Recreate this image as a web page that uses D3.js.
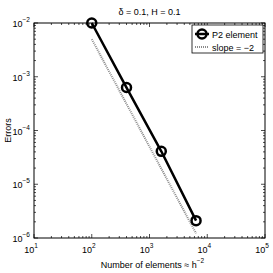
<!DOCTYPE html>
<html>
<head>
<meta charset="utf-8">
<script src="https://cdn.jsdelivr.net/npm/d3@7"></script>
<style>
  body { margin: 0; background: #fff; }
  svg text { font-family: "Liberation Sans", Arial, sans-serif; fill: #000; }
</style>
</head>
<body>
<div id="result"></div>
<script>
// data
const elements = [100, 400, 1600, 6400];
const errors = [1.0e-2, 6.3e-4, 4.1e-5, 2.1e-6];
const slopeX = [100, 6400];
const slopeY = [5.0e-3, 1.22e-6];
const xTickExps = [1, 2, 3, 4, 5];
const yTickExps = [-6, -5, -4, -3, -2];
const legendLabels = ['P2 element', 'slope = \u22122'];

const width = 273, height = 273;
const margin = { top: 23, right: 8, bottom: 35, left: 34 };
const FS = 9, SUP = 6.5;

const svg = d3.select('#result').append('svg')
  .attr('width', width)
  .attr('height', height);

const x = d3.scaleLog().domain([1e1, 1e5]).range([margin.left, width - margin.right]);
const y = d3.scaleLog().domain([1e-6, 1e-2]).range([height - margin.bottom, margin.top]);

const x0 = x.range()[0], x1 = x.range()[1];
const y0 = y.range()[0], y1 = y.range()[1];

// box
svg.append('rect')
  .attr('x', x0).attr('y', y1)
  .attr('width', x1 - x0).attr('height', y0 - y1)
  .attr('fill', 'none').attr('stroke', '#000').attr('stroke-width', 1);

// ticks, inside, on all four sides
const ticks = svg.append('g').attr('stroke', '#000').attr('stroke-width', 0.7);
function minorList(scale) {
  var out = [];
  var d = scale.domain();
  for (var e = Math.log10(d[0]); e < Math.log10(d[1]); e++) {
    for (var m = 1; m < 10; m++) out.push({ v: m * Math.pow(10, e), major: m == 1 });
  }
  out.push({ v: d[1], major: true });
  return out;
}
minorList(x).forEach(function(t) {
  var len = t.major ? 4 : 2;
  var px = x(t.v);
  ticks.append('line').attr('x1', px).attr('x2', px).attr('y1', y0).attr('y2', y0 - len);
  ticks.append('line').attr('x1', px).attr('x2', px).attr('y1', y1).attr('y2', y1 + len);
});
minorList(y).forEach(function(t) {
  var len = t.major ? 4 : 2;
  var py = y(t.v);
  ticks.append('line').attr('x1', x0).attr('x2', x0 + len).attr('y1', py).attr('y2', py);
  ticks.append('line').attr('x1', x1).attr('x2', x1 - len).attr('y1', py).attr('y2', py);
});

// tick labels with superscript exponent
function powLabel(g, e) {
  g.append('tspan').text('10');
  g.append('tspan').attr('dy', -5).attr('font-size', SUP).text(e < 0 ? '\u2212' + (-e) : e);
}
xTickExps.forEach(function(e) {
  var t = svg.append('text')
    .attr('x', x(Math.pow(10, e)) - 3).attr('y', y0 + 15)
    .attr('font-size', FS).attr('text-anchor', 'middle');
  powLabel(t, e);
});
yTickExps.forEach(function(e) {
  var t = svg.append('text')
    .attr('x', x0 - 4).attr('y', y(Math.pow(10, e)) + 4)
    .attr('font-size', FS).attr('text-anchor', 'end');
  powLabel(t, e);
});

// slope reference line
const line = d3.line().x(function(d) { return x(d[0]); }).y(function(d) { return y(d[1]); });
svg.append('path')
  .datum(d3.zip(slopeX, slopeY))
  .attr('d', line)
  .attr('fill', 'none')
  .attr('stroke', '#8a8a8a')
  .attr('stroke-width', 2)
  .attr('stroke-dasharray', '1,1');

// error line with markers
const data = d3.zip(elements, errors);
svg.append('path')
  .datum(data)
  .attr('d', line)
  .attr('fill', 'none')
  .attr('stroke', '#000')
  .attr('stroke-width', 2.5);
svg.selectAll('circle.pt')
  .data(data)
  .enter().append('circle')
  .attr('class', 'pt')
  .attr('cx', function(d) { return x(d[0]); })
  .attr('cy', function(d) { return y(d[1]); })
  .attr('r', 4.5)
  .attr('fill', 'none')
  .attr('stroke', '#000')
  .attr('stroke-width', 2.5);

// title and axis labels
svg.append('text')
  .attr('x', (x0 + x1) / 2).attr('y', 15)
  .attr('font-size', FS).attr('text-anchor', 'middle')
  .text('\u03b4 = 0.1, H = 0.1');

const xl = svg.append('text')
  .attr('x', (x0 + x1) / 2 + 3).attr('y', 268)
  .attr('font-size', FS).attr('text-anchor', 'middle');
xl.append('tspan').text('Number of elements \u2248 h');
xl.append('tspan').attr('dy', -5).attr('font-size', SUP).text('\u22122');

svg.append('text')
  .attr('font-size', FS).attr('text-anchor', 'middle')
  .attr('transform', 'translate(11,' + ((y0 + y1) / 2) + ')rotate(-90)')
  .text('Errors');

// legend
const lg = svg.append('g').attr('transform', 'translate(192,25)');
lg.append('rect')
  .attr('width', 71).attr('height', 28)
  .attr('fill', '#fff').attr('stroke', '#000').attr('stroke-width', 0.8);
lg.append('line')
  .attr('x1', 3).attr('x2', 17).attr('y1', 9).attr('y2', 9)
  .attr('stroke', '#000').attr('stroke-width', 2.5);
lg.append('circle')
  .attr('cx', 10).attr('cy', 9).attr('r', 4.5)
  .attr('fill', 'none').attr('stroke', '#000').attr('stroke-width', 2.5);
lg.append('line')
  .attr('x1', 3).attr('x2', 17).attr('y1', 22).attr('y2', 22)
  .attr('stroke', '#8a8a8a').attr('stroke-width', 2).attr('stroke-dasharray', '1,1');
lg.selectAll('text.lab')
  .data(legendLabels)
  .enter().append('text')
  .attr('class', 'lab')
  .attr('x', 20)
  .attr('y', function(d, i) { return 12.5 + i * 13; })
  .attr('font-size', FS)
  .text(function(d) { return d; });
</script>
</body>
</html>
